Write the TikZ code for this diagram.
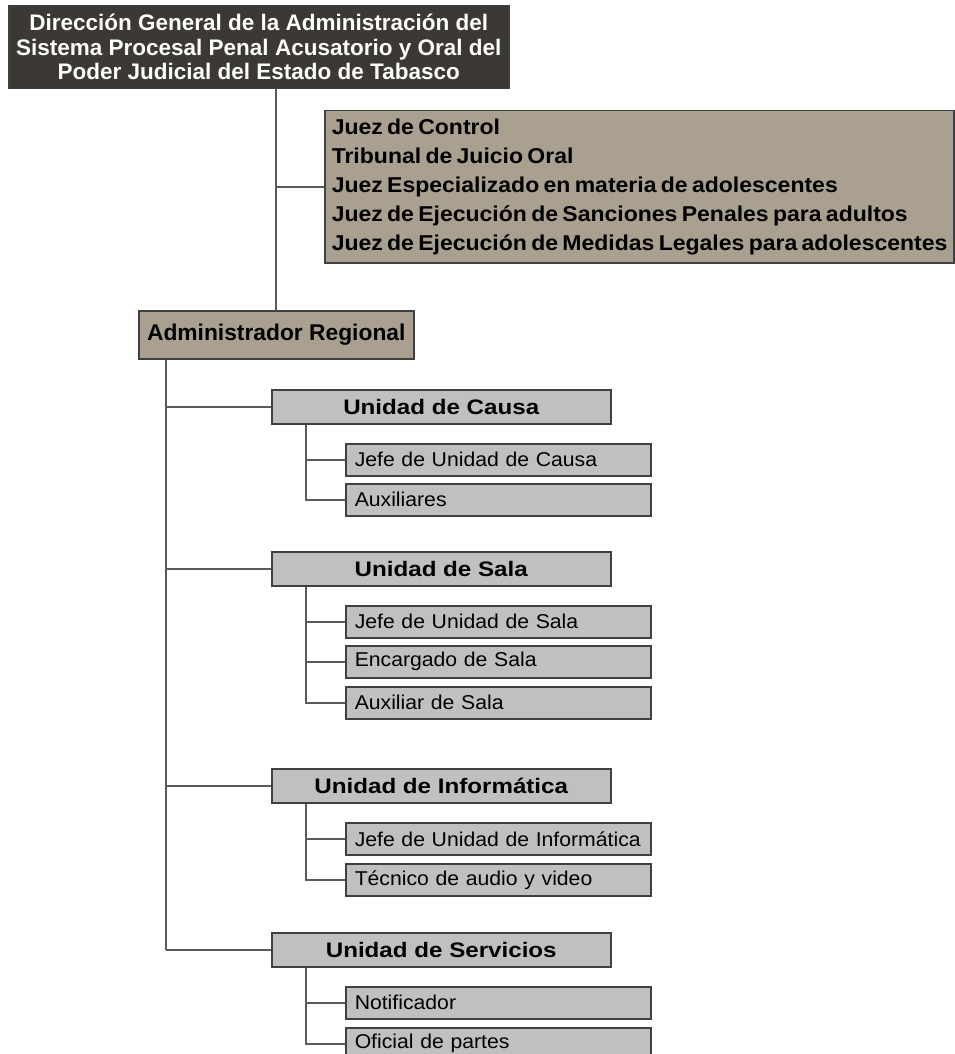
\documentclass[tikz,border=0pt]{standalone}
\usepackage{fontspec}
\setmainfont{Liberation Sans}
\newfontfamily\headfont{Liberation Sans}[FakeStretch=1.15]
\newfontfamily\itemfont{Liberation Sans}[FakeStretch=1.06]
\newfontfamily\judgefont{Liberation Sans}[FakeStretch=1.07]
\newcommand{\judgeset}{\spaceskip=4.3pt\relax}
\usetikzlibrary{positioning}
\definecolor{darkbox}{RGB}{60,57,53}
\definecolor{tanbox}{RGB}{170,160,143}
\definecolor{greybox}{RGB}{192,192,192}
\definecolor{boxline}{RGB}{64,64,64}
\definecolor{connline}{RGB}{90,90,90}
\tikzset{
  topbox/.style  ={draw=boxline, fill=darkbox, text=white, anchor=north west, align=center,
                   font=\fontsize{22.5}{24.5}\selectfont\bfseries, inner sep=0pt,
                   minimum width=500pt, minimum height=83pt, line width=1.5pt},
  judgebox/.style={draw=boxline, fill=tanbox, anchor=north west, align=left,
                   font=\fontsize{21.5}{29}\judgefont\bfseries,
                   inner xsep=7pt, inner ysep=0pt,
                   text width=615pt, minimum height=152pt, line width=1.5pt},
  adminbox/.style={draw=boxline, fill=tanbox, anchor=north west, align=center,
                   font=\fontsize{22.8}{24}\selectfont\bfseries, inner sep=0pt,
                   minimum width=275pt, minimum height=48pt, line width=1.5pt},
  unitbox/.style ={draw=boxline, fill=greybox, anchor=north west, align=center,
                   font=\fontsize{21}{23}\headfont\bfseries, inner sep=0pt,
                   minimum width=339pt, minimum height=34pt, line width=1.5pt},
  itembox/.style ={draw=boxline, fill=greybox, anchor=north west, align=left,
                   font=\fontsize{20}{22}\itemfont, inner xsep=9pt, inner ysep=0pt,
                   text width=287pt, minimum height=32pt, line width=1.5pt},
  conn/.style    ={draw=connline, line width=1.8pt},
}
\begin{document}
\begin{tikzpicture}[x=1pt,y=-1pt]
\useasboundingbox (0,0) rectangle (955,1054);
\clip (0,0) rectangle (955,1054);
% ---------- direccion general and jueces ----------
\node[topbox] (dirgen) at (8,5) {Dirección General de la Administración del\\
  Sistema Procesal Penal Acusatorio y Oral del\\Poder Judicial del Estado de Tabasco};
\node[judgebox] (jueces) at (324,110) {\judgeset Juez de Control\\Tribunal de Juicio Oral\\%
  \mbox{Juez Especializado en materia de adolescentes}\\%
  \mbox{Juez de Ejecución de Sanciones Penales para adultos}\\%
  \mbox{Juez de Ejecución de Medidas Legales para adolescentes}};
\node[adminbox] (admin) at (138,310) {Administrador Regional};
\draw[conn] (admin.north |- dirgen.south) -- (admin.north);
\coordinate (jbr) at (admin.north |- jueces.west);
\draw[conn] (jbr) -- (jueces.west);

% ---------- unidades ----------
\coordinate (aspine) at ([xshift=28pt]admin.south west);
\foreach \nm/\y/\lab in {ucausa/389/Unidad de Causa, usala/551/Unidad de Sala,
                         uinfo/768/Unidad de Informática, userv/932/Unidad de Servicios}{
  \node[unitbox] (\nm) at (271,\y) {\lab};
  \draw[conn] (aspine |- \nm.west) -- (\nm.west);
}
\draw[conn] (aspine) -- (aspine |- userv.west);

% ---------- puestos ----------
\foreach \nm/\y/\lab/\up in {jcausa/443/Jefe de Unidad de Causa/ucausa, auxcausa/483/Auxiliares/ucausa,
                             jsala/605/Jefe de Unidad de Sala/usala, encsala/645/Encargado de Sala/usala,
                             auxsala/686/Auxiliar de Sala/usala,
                             jinfo/822/Jefe de Unidad de Informática/uinfo, tecinfo/863/Técnico de audio y video/uinfo,
                             notif/986/Notificador/userv, oficial/1027/Oficial de partes/userv}{
  \node[itembox] (\nm) at (345,\y) {\lab};
  \draw[conn] ([xshift=35pt]\up.south west) |- (\nm.west);
}
\end{tikzpicture}
\end{document}
